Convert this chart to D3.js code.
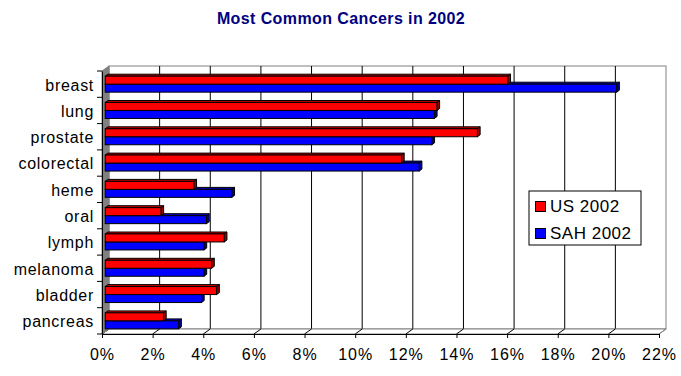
<!DOCTYPE html>
<html>
<head>
<meta charset="utf-8">
<script src="https://d3js.org/d3.v7.min.js"></script>
<style>
  body { margin: 0; background: #fff; }
  text { font-family: "Liberation Sans", Arial, sans-serif; }
</style>
</head>
<body>
<div id="my_dataviz"></div>
<script>
// data (percent of all cancers)
var categories = ["breast", "lung", "prostate", "colorectal", "heme",
                  "oral", "lymph", "melanoma", "bladder", "pancreas"];
var seriesNames = ["US 2002", "SAH 2002"];
var us2002  = [15.9, 13.1, 14.7, 11.7, 3.5, 2.2, 4.7, 4.2, 4.4, 2.3];
var sah2002 = [20.2, 13.0, 12.9, 12.4, 5.0, 4.0, 3.9, 3.9, 3.8, 2.9];
var xTicks = [0, 2, 4, 6, 8, 10, 12, 14, 16, 18, 20, 22];

var seriesValues = [us2002, sah2002];
var colors = ["#ff0000", "#0000ff"];
var topColors = ["#cc0000", "#0000cc"];
var sideColors = ["#990000", "#000099"];

var width = 681, height = 376;

// fake 3d depth of the plot box
var depthX = 7, depthY = -5;
// bars sit between these depth fractions
var barFront = 0.46, barBack = 0.85;

var svg = d3.select("#my_dataviz")
  .append("svg")
    .attr("width", width)
    .attr("height", height);

var x = d3.scaleLinear()
  .domain([0, 22])
  .range([102, 659]);

var y = d3.scaleBand()
  .domain(categories)
  .range([71, 334])
  .padding(0);

var ySeries = d3.scaleBand()
  .domain(seriesNames)
  .range([0, 16]);

var groupOffset = (y.bandwidth() - 16) / 2 - depthY * barFront;

// title
svg.append("text")
  .attr("x", 341)
  .attr("y", 24)
  .attr("text-anchor", "middle")
  .style("font-size", "16px")
  .style("font-weight", "bold")
  .style("letter-spacing", "0.4px")
  .attr("fill", "#000080")
  .text("Most Common Cancers in 2002");

var x0 = x(0), x1 = x(22), yTop = y.range()[0], yBot = y.range()[1];

// back wall
svg.append("rect")
  .attr("x", x0 + depthX)
  .attr("y", yTop + depthY)
  .attr("width", x1 - x0)
  .attr("height", yBot - yTop)
  .attr("fill", "#fff")
  .attr("stroke", "#808080");

// vertical gridlines on back wall
svg.selectAll(".grid")
  .data(xTicks.filter(function(d) { return d > 0 && d < 22; }))
  .enter()
  .append("line")
    .attr("x1", function(d) { return x(d) + depthX; })
    .attr("x2", function(d) { return x(d) + depthX; })
    .attr("y1", yTop + depthY)
    .attr("y2", yBot + depthY)
    .attr("stroke", "#000");

// floor
svg.append("polygon")
  .attr("points", [[x0, yBot], [x1, yBot], [x1 + depthX, yBot + depthY], [x0 + depthX, yBot + depthY]].join(" "))
  .attr("fill", "#fff")
  .attr("stroke", "#808080");

// floor gridlines
svg.selectAll(".floorgrid")
  .data(xTicks)
  .enter()
  .append("line")
    .attr("x1", function(d) { return x(d); })
    .attr("x2", function(d) { return x(d) + depthX; })
    .attr("y1", yBot)
    .attr("y2", yBot + depthY)
    .attr("stroke", function(d) { return d == 22 ? "#808080" : "#000"; });

// left side wall
svg.append("polygon")
  .attr("points", [[x0, yTop], [x0 + depthX, yTop + depthY], [x0 + depthX, yBot + depthY], [x0, yBot]].join(" "))
  .attr("fill", "#808080")
  .attr("stroke", "#808080");

// bars, one group per category (blue drawn first so red front face covers it)
categories.forEach(function(cat, i) {
  [1, 0].forEach(function(s) {
    var v = seriesValues[s][i];
    var dxF = depthX * barFront, dyF = depthY * barFront;
    var dd = depthX * (barBack - barFront), de = depthY * (barBack - barFront);
    var bx0 = x(0) + dxF, bx1 = x(v) + dxF;
    var by0 = y(cat) + groupOffset + ySeries(seriesNames[s]) + dyF;
    var by1 = by0 + ySeries.bandwidth();
    var g = svg.append("g");
    // top face
    g.append("polygon")
      .attr("points", [[bx0, by0], [bx1, by0], [bx1 + dd, by0 + de], [bx0 + dd, by0 + de]].join(" "))
      .attr("fill", topColors[s])
      .attr("stroke", "#000")
      .attr("stroke-linejoin", "round");
    // side face
    g.append("polygon")
      .attr("points", [[bx1, by0], [bx1 + dd, by0 + de], [bx1 + dd, by1 + de], [bx1, by1]].join(" "))
      .attr("fill", sideColors[s])
      .attr("stroke", "#000")
      .attr("stroke-linejoin", "round");
    // front face
    g.append("rect")
      .attr("x", bx0)
      .attr("y", by0)
      .attr("width", bx1 - bx0)
      .attr("height", by1 - by0)
      .attr("fill", colors[s])
      .attr("stroke", "#000");
  });
});

// X axis along the front edge
var xAxis = svg.append("g")
  .attr("transform", "translate(0," + yBot + ")")
  .call(d3.axisBottom(x).tickValues(xTicks).tickSize(4).tickSizeOuter(0)
        .tickFormat(function(d) { return d + "%"; }));
xAxis.select(".domain").attr("stroke", "#000");
xAxis.selectAll("text")
  .attr("y", 12)
  .attr("dy", "0.9em")
  .style("font-size", "16px")
  .style("letter-spacing", "1px")
  .attr("fill", "#000");

// Y axis with category labels
var yAxis = svg.append("g")
  .attr("transform", "translate(" + x0 + ",0)")
  .call(d3.axisLeft(y).tickSize(0).tickPadding(8));
yAxis.select(".domain").attr("stroke", "#000");
yAxis.selectAll("text")
  .style("font-size", "16px")
  .style("letter-spacing", "0.7px")
  .attr("dy", "0.4em")
  .attr("fill", "#000");

// tick marks between categories
svg.selectAll(".ytick")
  .data(d3.range(categories.length + 1))
  .enter()
  .append("line")
    .attr("x1", x0 - 5)
    .attr("x2", x0)
    .attr("y1", function(d) { return yTop + d * y.step(); })
    .attr("y2", function(d) { return yTop + d * y.step(); })
    .attr("stroke", "#000");

// legend
var legend = svg.append("g").attr("transform", "translate(529,191)");
legend.append("rect")
  .attr("width", 112)
  .attr("height", 54)
  .attr("fill", "#fff")
  .attr("stroke", "#000");
seriesNames.forEach(function(name, s) {
  legend.append("rect")
    .attr("x", 6.5)
    .attr("y", 10.5 + s * 27)
    .attr("width", 10)
    .attr("height", 10)
    .attr("fill", colors[s])
    .attr("stroke", "#000");
  legend.append("text")
    .attr("x", 21)
    .attr("y", 21 + s * 27)
    .style("font-size", "17px")
    .style("letter-spacing", "0.5px")
    .attr("fill", "#000")
    .text(name);
});
</script>
</body>
</html>
